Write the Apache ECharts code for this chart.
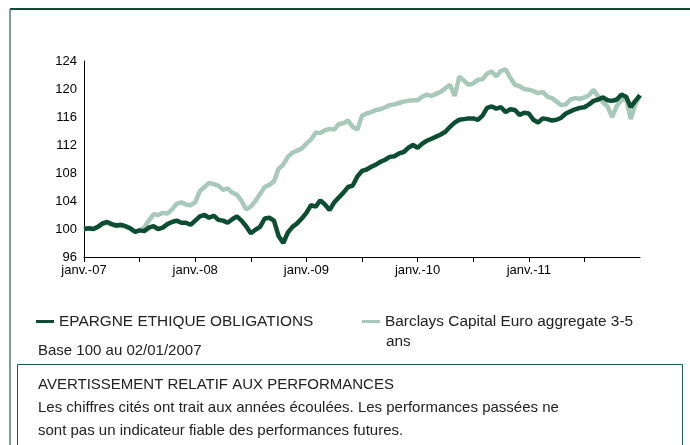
<!DOCTYPE html>
<html>
<head>
<meta charset="utf-8">
<script src="https://cdn.jsdelivr.net/npm/echarts@6/dist/echarts.min.js"></script>
<style>
  html, body { margin: 0; padding: 0; background: #fff; }
  #chart { width: 690px; height: 445px; }
</style>
</head>
<body>
<div id="chart"></div>
<script>
// base 100 on 02/01/2007, one reading every half month (2007-01 .. 2011-12)
const epargne = [
  100.0, 100.1, 100.0, 100.3, 100.8, 101.0, 100.7, 100.5, 100.6, 100.4,
  100.1, 99.6, 99.8, 99.7, 100.2, 100.4, 100.0, 100.2, 100.7, 101.0,
  101.2, 100.9, 100.9, 100.6, 101.2, 101.8, 102.0, 101.6, 101.9, 101.3,
  101.2, 100.9, 101.4, 101.8, 101.2, 100.4, 99.4, 99.9, 100.3, 101.5,
  101.6, 101.2, 99.0, 98.0, 99.5, 100.3, 100.8, 101.5, 102.3, 103.4,
  103.2, 104.1, 103.5, 102.7, 103.8, 104.5, 105.2, 106.0, 106.2, 107.5,
  108.3, 108.5, 108.9, 109.2, 109.6, 109.9, 110.3, 110.4, 110.8, 111.0,
  111.6, 112.0, 111.6, 112.2, 112.6, 112.9, 113.2, 113.5, 113.9, 114.6,
  115.2, 115.6, 115.7, 115.8, 115.8, 115.6, 116.2, 117.3, 117.5, 117.2,
  117.4, 116.7, 117.1, 117.0, 116.3, 116.6, 116.5, 115.6, 115.2, 115.8,
  115.7, 115.5, 115.6, 115.9, 116.5, 116.8, 117.1, 117.3, 117.4, 117.8,
  118.3, 118.5, 118.8, 118.4, 118.3, 118.5, 119.2, 118.9, 117.4, 118.3,
  119.1
];
const barclays = [
  100.0, 100.1, 100.0, 100.3, 100.7, 100.9, 100.6, 100.4, 100.5, 100.3,
  100.0, 99.6, 99.8, 100.2, 101.2, 102.1, 102.0, 102.3, 102.2, 102.8,
  103.6, 103.8, 103.5, 103.4, 103.8, 105.4, 106.0, 106.6, 106.4, 106.2,
  105.6, 105.8, 105.2, 104.9, 104.0, 102.8, 103.2, 104.0, 105.0, 106.0,
  106.3, 106.8, 108.6, 109.2, 110.3, 110.9, 111.2, 111.5, 112.2, 112.8,
  113.8, 113.7, 114.1, 114.3, 114.2, 115.0, 115.1, 115.5, 114.6, 114.2,
  116.2, 116.5, 116.7, 117.0, 117.1, 117.4, 117.7, 117.8, 118.0, 118.2,
  118.3, 118.4, 118.4, 118.9, 119.2, 119.0, 119.3, 119.6, 120.1, 120.6,
  119.0, 121.8, 121.2, 120.6, 120.8, 121.3, 121.4, 122.2, 122.5, 121.8,
  122.6, 122.8, 121.6, 120.6, 120.4, 120.0, 119.9, 119.7, 119.4, 119.6,
  118.9, 118.7, 118.2, 117.7, 117.8, 118.5, 118.7, 118.6, 118.8, 119.1,
  119.9, 118.9, 118.1, 117.5, 116.0, 117.6, 118.4, 118.6, 115.7, 117.8,
  119.1
];
const years = [2007, 2008, 2009, 2010, 2011];
const yTicks = [96, 100, 104, 108, 112, 116, 120, 124];

const seriesNames = ["EPARGNE ETHIQUE OBLIGATIONS", "Barclays Capital Euro aggregate 3-5 ans"];
const colors = ["#0c4d33", "#a9c8bc"];

// half-month dates
const dates = [];
years.forEach((y) => {
  for (let m = 1; m <= 12; m++) {
    const mm = String(m).padStart(2, "0");
    dates.push(y + "-" + mm + "-01", y + "-" + mm + "-15");
  }
});
dates.push("2011-12-30");

const font = "'Liberation Sans', Arial, sans-serif";
const chart = echarts.init(document.getElementById("chart"));

chart.setOption({
  animation: false,
  textStyle: { fontFamily: font },
  grid: { left: 84, right: 50, top: 61, bottom: 188 },
  legend: [
    {
      data: [seriesNames[0]],
      left: 31, top: 309,
      icon: "rect", itemWidth: 18, itemHeight: 3,
      textStyle: { fontFamily: font, fontSize: 15.4, color: "#222" },
    },
    {
      data: [seriesNames[1]],
      left: 357, top: 309,
      icon: "rect", itemWidth: 18, itemHeight: 3,
      formatter: (n) => n.replace(" ans", ""),
      textStyle: { fontFamily: font, fontSize: 15.4, color: "#222" },
    },
  ],
  xAxis: {
    type: "category",
    boundaryGap: false,
    data: dates,
    axisLine: { lineStyle: { color: "#000", width: 1 } },
    axisTick: { interval: (i) => i % 12 === 0 && i < 120, length: 5, lineStyle: { color: "#000" } },
    axisLabel: {
      interval: (i) => i % 24 === 0 && i < 120,
      formatter: (v) => "janv.-" + v.slice(2, 4),
      color: "#000", fontSize: 13, margin: 7,
    },
  },
  yAxis: {
    type: "value",
    min: yTicks[0], max: yTicks[yTicks.length - 1], interval: 4,
    axisLine: { show: true, lineStyle: { color: "#000", width: 1 } },
    axisTick: { show: false },
    splitLine: { show: false },
    axisLabel: { color: "#000", fontSize: 13, margin: 7 },
  },
  series: [
    {
      name: seriesNames[1], type: "line", data: barclays,
      showSymbol: false, lineStyle: { width: 4.5, color: colors[1] },
      itemStyle: { color: colors[1] }, z: 2,
    },
    {
      name: seriesNames[0], type: "line", data: epargne,
      showSymbol: false, lineStyle: { width: 4.5, color: colors[0] },
      itemStyle: { color: colors[0] }, z: 3,
    },
  ],
  graphic: [
    { type: "line", shape: { x1: 10, y1: 9, x2: 690, y2: 9 }, style: { stroke: "#0c4d33", lineWidth: 2 } },
    { type: "line", shape: { x1: 10, y1: 9, x2: 10, y2: 445 }, style: { stroke: "#4f7f6c", lineWidth: 1.5 } },
    { type: "rect", shape: { x: 17.5, y: 364.5, width: 665, height: 100 }, style: { fill: "none", stroke: "#245c44", lineWidth: 1 } },
    { type: "text", left: 386, top: 334, style: { text: "ans", font: "15.4px " + font, fill: "#222" } },
    { type: "text", left: 38, top: 343, style: { text: "Base 100 au 02/01/2007", font: "15px " + font, fill: "#222" } },
    { type: "text", left: 38, top: 377, style: { text: "AVERTISSEMENT RELATIF AUX PERFORMANCES", font: "15px " + font, fill: "#222" } },
    { type: "text", left: 38, top: 400, style: { text: "Les chiffres cités ont trait aux années écoulées. Les performances passées ne", font: "15px " + font, fill: "#222" } },
    { type: "text", left: 38, top: 423, style: { text: "sont pas un indicateur fiable des performances futures.", font: "15px " + font, fill: "#222" } },
  ],
});
</script>
</body>
</html>
